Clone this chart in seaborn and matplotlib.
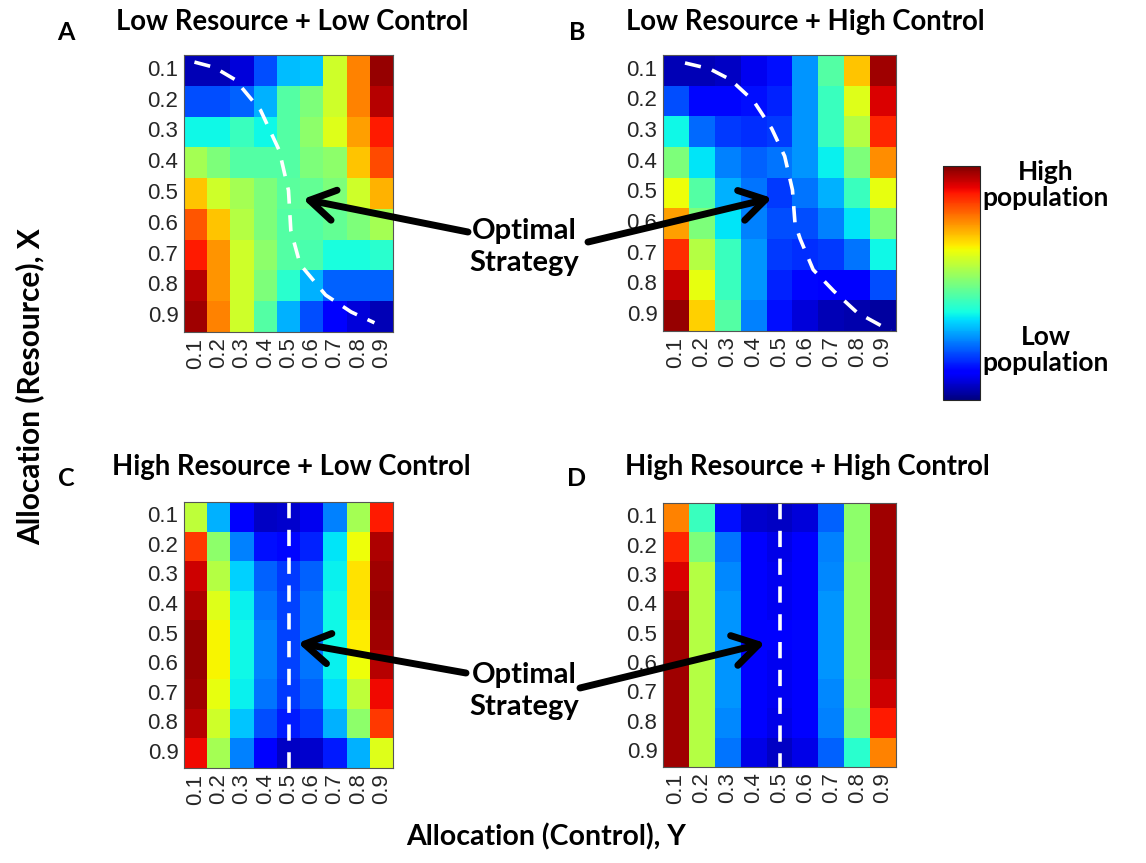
import numpy as np
import pandas as pd
import matplotlib
matplotlib.use("Agg")
import matplotlib.pyplot as plt
import seaborn as sns

# ----- dati -----
alloc_labels = ["0.1", "0.2", "0.3", "0.4", "0.5", "0.6", "0.7", "0.8", "0.9"]

low_res_low_ctrl = [
    [0.05, 0.05, 0.08, 0.20, 0.31, 0.32, 0.60, 0.77, 0.98],
    [0.20, 0.20, 0.22, 0.30, 0.45, 0.50, 0.60, 0.77, 0.95],
    [0.37, 0.37, 0.42, 0.37, 0.45, 0.52, 0.62, 0.74, 0.88],
    [0.55, 0.50, 0.45, 0.45, 0.45, 0.50, 0.52, 0.70, 0.83],
    [0.70, 0.60, 0.55, 0.50, 0.46, 0.47, 0.50, 0.60, 0.72],
    [0.82, 0.70, 0.57, 0.50, 0.45, 0.45, 0.47, 0.50, 0.55],
    [0.88, 0.75, 0.60, 0.52, 0.45, 0.44, 0.38, 0.38, 0.40],
    [0.95, 0.75, 0.60, 0.50, 0.40, 0.30, 0.22, 0.22, 0.22],
    [0.97, 0.77, 0.60, 0.45, 0.30, 0.20, 0.12, 0.08, 0.05],
]

low_res_high_ctrl = [
    [0.05, 0.05, 0.06, 0.10, 0.14, 0.27, 0.45, 0.70, 0.97],
    [0.20, 0.13, 0.13, 0.14, 0.16, 0.27, 0.42, 0.62, 0.92],
    [0.37, 0.23, 0.18, 0.17, 0.18, 0.27, 0.42, 0.57, 0.87],
    [0.50, 0.35, 0.25, 0.22, 0.24, 0.27, 0.36, 0.50, 0.76],
    [0.64, 0.45, 0.30, 0.24, 0.18, 0.24, 0.30, 0.42, 0.63],
    [0.74, 0.50, 0.35, 0.25, 0.20, 0.20, 0.25, 0.35, 0.50],
    [0.86, 0.57, 0.42, 0.27, 0.18, 0.17, 0.18, 0.24, 0.37],
    [0.94, 0.63, 0.42, 0.27, 0.16, 0.13, 0.12, 0.12, 0.20],
    [0.98, 0.69, 0.45, 0.25, 0.14, 0.08, 0.05, 0.04, 0.03],
]

high_res_low_ctrl = [
    [0.58, 0.30, 0.12, 0.06, 0.07, 0.10, 0.25, 0.55, 0.88],
    [0.85, 0.52, 0.25, 0.14, 0.13, 0.16, 0.35, 0.64, 0.96],
    [0.93, 0.57, 0.33, 0.22, 0.18, 0.22, 0.36, 0.67, 0.97],
    [0.96, 0.62, 0.36, 0.24, 0.19, 0.24, 0.37, 0.67, 0.98],
    [0.98, 0.65, 0.37, 0.25, 0.19, 0.24, 0.37, 0.66, 0.97],
    [0.98, 0.65, 0.37, 0.25, 0.19, 0.24, 0.36, 0.64, 0.95],
    [0.97, 0.63, 0.36, 0.24, 0.18, 0.22, 0.34, 0.58, 0.90],
    [0.95, 0.60, 0.32, 0.20, 0.15, 0.18, 0.30, 0.52, 0.85],
    [0.90, 0.55, 0.25, 0.12, 0.06, 0.07, 0.15, 0.30, 0.62],
]

high_res_high_ctrl = [
    [0.77, 0.42, 0.14, 0.07, 0.06, 0.08, 0.22, 0.52, 0.97],
    [0.87, 0.50, 0.24, 0.11, 0.09, 0.11, 0.25, 0.52, 0.97],
    [0.92, 0.57, 0.26, 0.12, 0.10, 0.12, 0.26, 0.53, 0.97],
    [0.96, 0.57, 0.27, 0.12, 0.10, 0.12, 0.27, 0.53, 0.97],
    [0.97, 0.57, 0.27, 0.12, 0.11, 0.13, 0.27, 0.53, 0.97],
    [0.97, 0.57, 0.27, 0.12, 0.10, 0.12, 0.27, 0.53, 0.96],
    [0.97, 0.57, 0.27, 0.12, 0.10, 0.12, 0.26, 0.52, 0.93],
    [0.97, 0.57, 0.26, 0.11, 0.09, 0.11, 0.25, 0.50, 0.88],
    [0.97, 0.57, 0.24, 0.09, 0.06, 0.09, 0.22, 0.40, 0.77],
]

panel_titles = ["Low Resource + Low Control", "Low Resource + High Control",
                "High Resource + Low Control", "High Resource + High Control"]
panel_letters = ["A", "B", "C", "D"]

# curve "strategia ottimale" (coordinate cella) per i pannelli superiori
curve_a_x = [0.45, 1.3, 2.2, 3.3, 4.1, 4.5, 4.6, 5.0, 6.1, 7.2, 8.2]
curve_a_y = [0.23, 0.4, 0.8, 1.8, 3.1, 4.4, 5.7, 6.8, 7.8, 8.35, 8.7]
curve_b_x = [0.85, 1.8, 2.6, 3.5, 4.2, 4.7, 5.0, 5.1, 5.3, 5.8, 6.6, 7.5, 8.8]
curve_b_y = [0.26, 0.45, 0.8, 1.5, 2.4, 3.3, 4.4, 5.5, 6.0, 7.0, 7.7, 8.4, 9.0]

W, H = 1146, 863
FONT_TITLE = ["Lato", "DejaVu Sans"]
FONT_TICK = ["Liberation Sans", "DejaVu Sans"]


def fx(px):
    return px / W


def fy(py):
    return 1 - py / H


def btext(fig, x, y, s, size, **kw):
    fig.text(fx(x), fy(y), s, ha="center", va="center", fontsize=size,
             fontweight="bold", family=FONT_TITLE, color="black", **kw)


def main():
    sns.set_style("white")
    plt.rcParams["font.family"] = FONT_TICK

    fig = plt.figure(figsize=(W / 100, H / 100), dpi=100)

    # posizioni pannelli in pixel (left, top, right, bottom)
    boxes = [(184, 55, 393, 332), (663, 55, 896, 331),
             (184, 502, 393, 768), (663, 503, 896, 767)]
    datasets = [low_res_low_ctrl, low_res_high_ctrl, high_res_low_ctrl, high_res_high_ctrl]

    axes = []
    for (l, t, r, b), vals in zip(boxes, datasets):
        ax = fig.add_axes([fx(l), fy(b), (r - l) / W, (b - t) / H])
        df = pd.DataFrame(vals, index=alloc_labels, columns=alloc_labels)
        sns.heatmap(df, cmap="jet", vmin=0, vmax=1, cbar=False, ax=ax,
                    xticklabels=alloc_labels, yticklabels=alloc_labels)
        ax.tick_params(length=0, labelsize=16, pad=4, labelcolor="#262626")
        ax.set_yticklabels(alloc_labels, rotation=0)
        ax.set_xticklabels(alloc_labels, rotation=90)
        for s in ax.spines.values():
            s.set_visible(True)
            s.set_color("#555555")
            s.set_linewidth(0.8)
        axes.append(ax)

    # linee tratteggiate bianche
    dash = dict(color="white", lw=2.6, dashes=(4.5, 3.2))
    axes[0].plot(curve_a_x, curve_a_y, **dash)
    axes[1].plot(curve_b_x, curve_b_y, **dash)
    axes[2].plot([4.5, 4.5], [0, 9], **dash)
    axes[3].plot([4.5, 4.5], [0, 9], **dash)

    # titoli e lettere
    title_pos = [(292, 22), (805, 22), (291, 467), (807, 467)]
    letter_pos = [(66, 32), (577, 32), (66, 478), (577, 478)]
    for title, (tx, ty), letter, (lx, ly) in zip(panel_titles, title_pos,
                                                panel_letters, letter_pos):
        btext(fig, tx, ty, title, 19.8)
        btext(fig, lx, ly, letter, 18)

    # colorbar
    cax = fig.add_axes([fx(943), fy(400), 37 / W, 234 / H])
    cbar = fig.colorbar(axes[0].collections[0], cax=cax)
    cbar.set_ticks(np.linspace(0, 1, 10)[1:-1])
    cbar.ax.tick_params(length=3, direction="in", labelright=False, width=0.6)
    cbar.outline.set_linewidth(0.8)
    btext(fig, 1046, 185, "High\npopulation", 19, linespacing=1.1)
    btext(fig, 1046, 350, "Low\npopulation", 19, linespacing=1.1)

    # frecce "Optimal Strategy"
    arrow = dict(arrowstyle="->,head_length=0.9,head_width=0.55", lw=5, color="black",
                 shrinkA=0, shrinkB=0)
    arrows = [((468, 232), (303, 199)), ((588, 242), (772, 198)),
              ((466, 673), (298, 643)), ((580, 688), (765, 643))]
    for (x0, y0), (x1, y1) in arrows:
        fig.add_artist(matplotlib.patches.FancyArrowPatch(
            (fx(x0), fy(y0)), (fx(x1), fy(y1)), transform=fig.transFigure,
            mutation_scale=20, **arrow))
    for cy in (247, 691):
        btext(fig, 524, cy, "Optimal\nStrategy", 21, linespacing=1.25)

    # etichette assi
    btext(fig, 30, 387, "Allocation (Resource), X", 21.5, rotation=90)
    btext(fig, 546, 837, "Allocation (Control), Y", 20.5)

    fig.savefig("out.png", dpi=100)


if __name__ == "__main__":
    main()
